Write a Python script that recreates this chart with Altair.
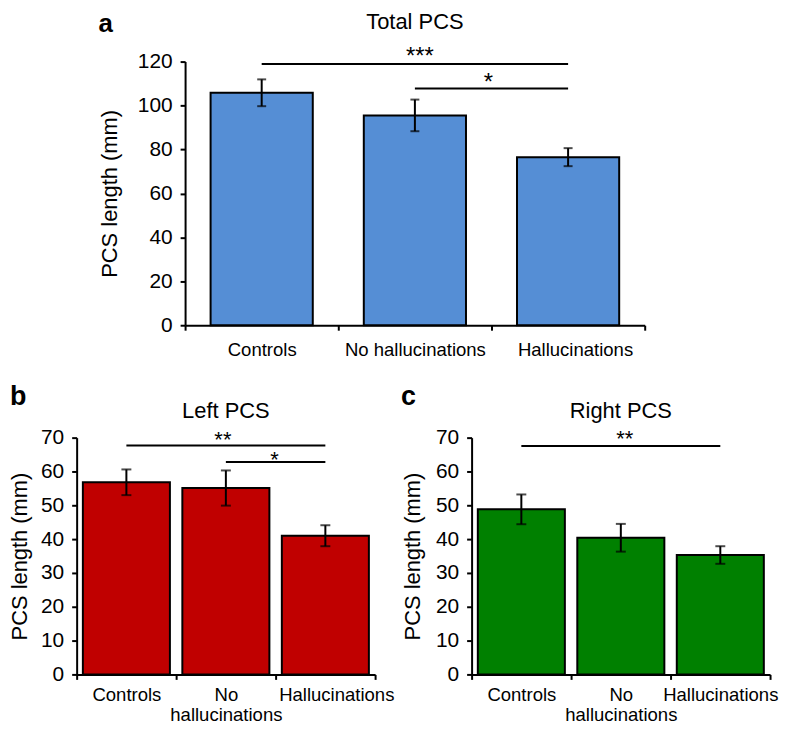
import altair as alt
import pandas as pd

FONT = "Liberation Sans"

categories = ["Controls", "No hallucinations", "Hallucinations"]

total_mean = [105.8, 95.5, 76.5]
total_err = [6.1, 7.2, 4.1]
left_mean = [56.8, 55.1, 41.0]
left_err = [3.8, 5.2, 3.1]
right_mean = [48.8, 40.4, 35.3]
right_err = [4.4, 4.1, 2.6]

total_sig_from = ["Controls", "No hallucinations"]
total_sig_to = ["Hallucinations", "Hallucinations"]
total_sig_y = [118.9, 107.8]
total_sig_label = ["***", "*"]
total_sig_label_y = [119.0, 107.0]
total_sig_label_at = ["No hallucinations", "Hallucinations"]

left_sig_from = ["Controls", "No hallucinations"]
left_sig_to = ["Hallucinations", "Hallucinations"]
left_sig_y = [67.7, 62.8]
left_sig_label = ["**", "*"]
left_sig_label_y = [67.3, 61.3]
left_sig_label_at = ["No hallucinations", "Hallucinations"]

right_sig_from = ["Controls"]
right_sig_to = ["Hallucinations"]
right_sig_y = [67.5]
right_sig_label = ["**"]
right_sig_label_y = [67.5]
right_sig_label_at = ["No hallucinations"]

y_ticks_total = [0, 20, 40, 60, 80, 100, 120]
y_ticks_side = [0, 10, 20, 30, 40, 50, 60, 70]


def panel(letter, title, means, errs, color, yticks, sig_from, sig_to, sig_y,
          lab, lab_y, lab_at, lab_dx, W, H, bar_frac, cap, star_size,
          multiline, hall_shift, title_pad, box, letter_xy, letter_size,
          title_y, xlab_pad, line_h):
    bars = pd.DataFrame({
        "cat": categories,
        "mean": means,
        "lo": [m - e for m, e in zip(means, errs)],
        "hi": [m + e for m, e in zip(means, errs)],
    })
    sig = pd.DataFrame({"from": sig_from, "to": sig_to, "y": sig_y})
    one = pd.DataFrame({"letter": [letter], "title": [title]})

    xscale = alt.Scale(domain=categories, paddingInner=0, paddingOuter=0)
    if multiline:
        label_expr = "datum.label == 'No hallucinations' ? ['No', 'hallucinations'] : datum.label"
    else:
        label_expr = "datum.label"
    xaxis = alt.Axis(
        title=None, grid=False, labelAngle=0, labelFont=FONT, labelFontSize=18.6,
        labelColor="black", labelPadding=xlab_pad, labelLineHeight=line_h,
        labelExpr=label_expr,
        labelOffset={"condition": {"test": "datum.value == 'Hallucinations'", "value": hall_shift}, "value": 0},
        tickBand="extent", tickSize=5, tickWidth=2, tickColor="black",
        domainColor="black", domainWidth=2,
    )
    yscale = alt.Scale(domain=[0, yticks[-1]], nice=False, zero=True)
    yaxis = alt.Axis(
        title="PCS length (mm)", values=yticks, grid=False, labelFont=FONT,
        labelFontSize=21, labelColor="black", labelPadding=8, tickSize=5,
        tickWidth=2, tickColor="black", domainColor="black", domainWidth=2,
        titleFont=FONT, titleFontSize=22, titleFontWeight="normal",
        titleColor="black", titlePadding=title_pad,
    )

    def X(field):
        return alt.X(f"{field}:N", scale=xscale, axis=xaxis)

    def Y(field):
        return alt.Y(f"{field}:Q", scale=yscale, axis=yaxis)

    L, T, R, B = box
    bound = alt.Chart(one).mark_rect(opacity=0).encode(
        x=alt.value(-L), x2=alt.value(W + R), y=alt.value(-T), y2=alt.value(H + B)
    )
    bar_layer = alt.Chart(bars).mark_bar(
        width={"band": bar_frac}, color=color, stroke="black", strokeWidth=2
    ).encode(x=X("cat"), y=Y("mean"))
    err_layer = alt.Chart(bars).mark_rule(color="black", strokeWidth=2).encode(
        x=X("cat"), y=Y("lo"), y2="hi"
    )
    cap_lo = alt.Chart(bars).mark_tick(color="black", size=cap, thickness=2).encode(
        x=X("cat"), y=Y("lo")
    )
    cap_hi = alt.Chart(bars).mark_tick(color="black", size=cap, thickness=2).encode(
        x=X("cat"), y=Y("hi")
    )
    sig_layer = alt.Chart(sig).mark_rule(color="black", strokeWidth=2).encode(
        x=X("from"), x2="to:N", y=Y("y")
    )
    layers = [bound, bar_layer, err_layer, cap_lo, cap_hi, sig_layer]
    for cat_i, y_i, t_i, dx_i in zip(lab_at, lab_y, lab, lab_dx):
        sdf = pd.DataFrame({"cat": [cat_i], "y": [y_i], "t": [t_i]})
        layers.append(
            alt.Chart(sdf).mark_text(
                font=FONT, fontSize=star_size, color="black", align="center",
                baseline="alphabetic", dx=dx_i
            ).encode(x=X("cat"), y=Y("y"), text="t:N")
        )
    lx, ly = letter_xy
    layers.append(
        alt.Chart(one).mark_text(
            font=FONT, fontSize=letter_size, fontWeight="bold", color="black",
            align="left", baseline="alphabetic"
        ).encode(x=alt.value(lx), y=alt.value(ly), text="letter:N")
    )
    layers.append(
        alt.Chart(one).mark_text(
            font=FONT, fontSize=22, color="black", align="center",
            baseline="alphabetic"
        ).encode(x=alt.value(W / 2), y=alt.value(title_y), text="title:N")
    )
    return alt.layer(*layers).properties(width=W, height=H)


pa = panel("a", "Total PCS", total_mean, total_err, "#558ED5", y_ticks_total,
           total_sig_from, total_sig_to, total_sig_y, total_sig_label,
           total_sig_label_y, total_sig_label_at, [5, -80],
           W=462, H=265, bar_frac=0.667, cap=9, star_size=24, multiline=False,
           hall_shift=7, title_pad=15.4, box=(95, 51, 20, 46),
           letter_xy=(-87, -30), letter_size=26, title_y=-33, xlab_pad=10.5,
           line_h=22)

pb = panel("b", "Left PCS", left_mean, left_err, "#C00000", y_ticks_side,
           left_sig_from, left_sig_to, left_sig_y, left_sig_label,
           left_sig_label_y, left_sig_label_at, [-3, -51],
           W=300, H=238, bar_frac=0.875, cap=10, star_size=22, multiline=True,
           hall_shift=11, title_pad=9, box=(68, 65, 21, 50),
           letter_xy=(-67, -33), letter_size=27, title_y=-20, xlab_pad=6,
           line_h=20.5)

pc = panel("c", "Right PCS", right_mean, right_err, "#008000", y_ticks_side,
           right_sig_from, right_sig_to, right_sig_y, right_sig_label,
           right_sig_label_y, right_sig_label_at, [4],
           W=300, H=238, bar_frac=0.875, cap=10, star_size=22, multiline=True,
           hall_shift=0, title_pad=11.5, box=(74, 65, 9, 50),
           letter_xy=(-71, -33), letter_size=27, title_y=-20, xlab_pad=6,
           line_h=20.5)

# narrow empty first cell of the top row, so panel a sits further right than panel b
spacer = alt.Chart(pd.DataFrame({"s": [0]})).mark_rect(opacity=0).encode(
    x=alt.value(0), x2=alt.value(12), y=alt.value(0), y2=alt.value(1)
).properties(width=12, height=1)

top = alt.hconcat(spacer, pa, spacing=0).resolve_scale(x="independent", y="independent")
bottom = alt.hconcat(pb, pc, spacing=0).resolve_scale(x="independent", y="independent")
chart = alt.vconcat(top, bottom, spacing=0).resolve_scale(
    x="independent", y="independent"
).properties(padding=0).configure(font=FONT).configure_view(stroke="transparent")

chart.save("out.html", embed_options={"renderer": "svg", "actions": False})
